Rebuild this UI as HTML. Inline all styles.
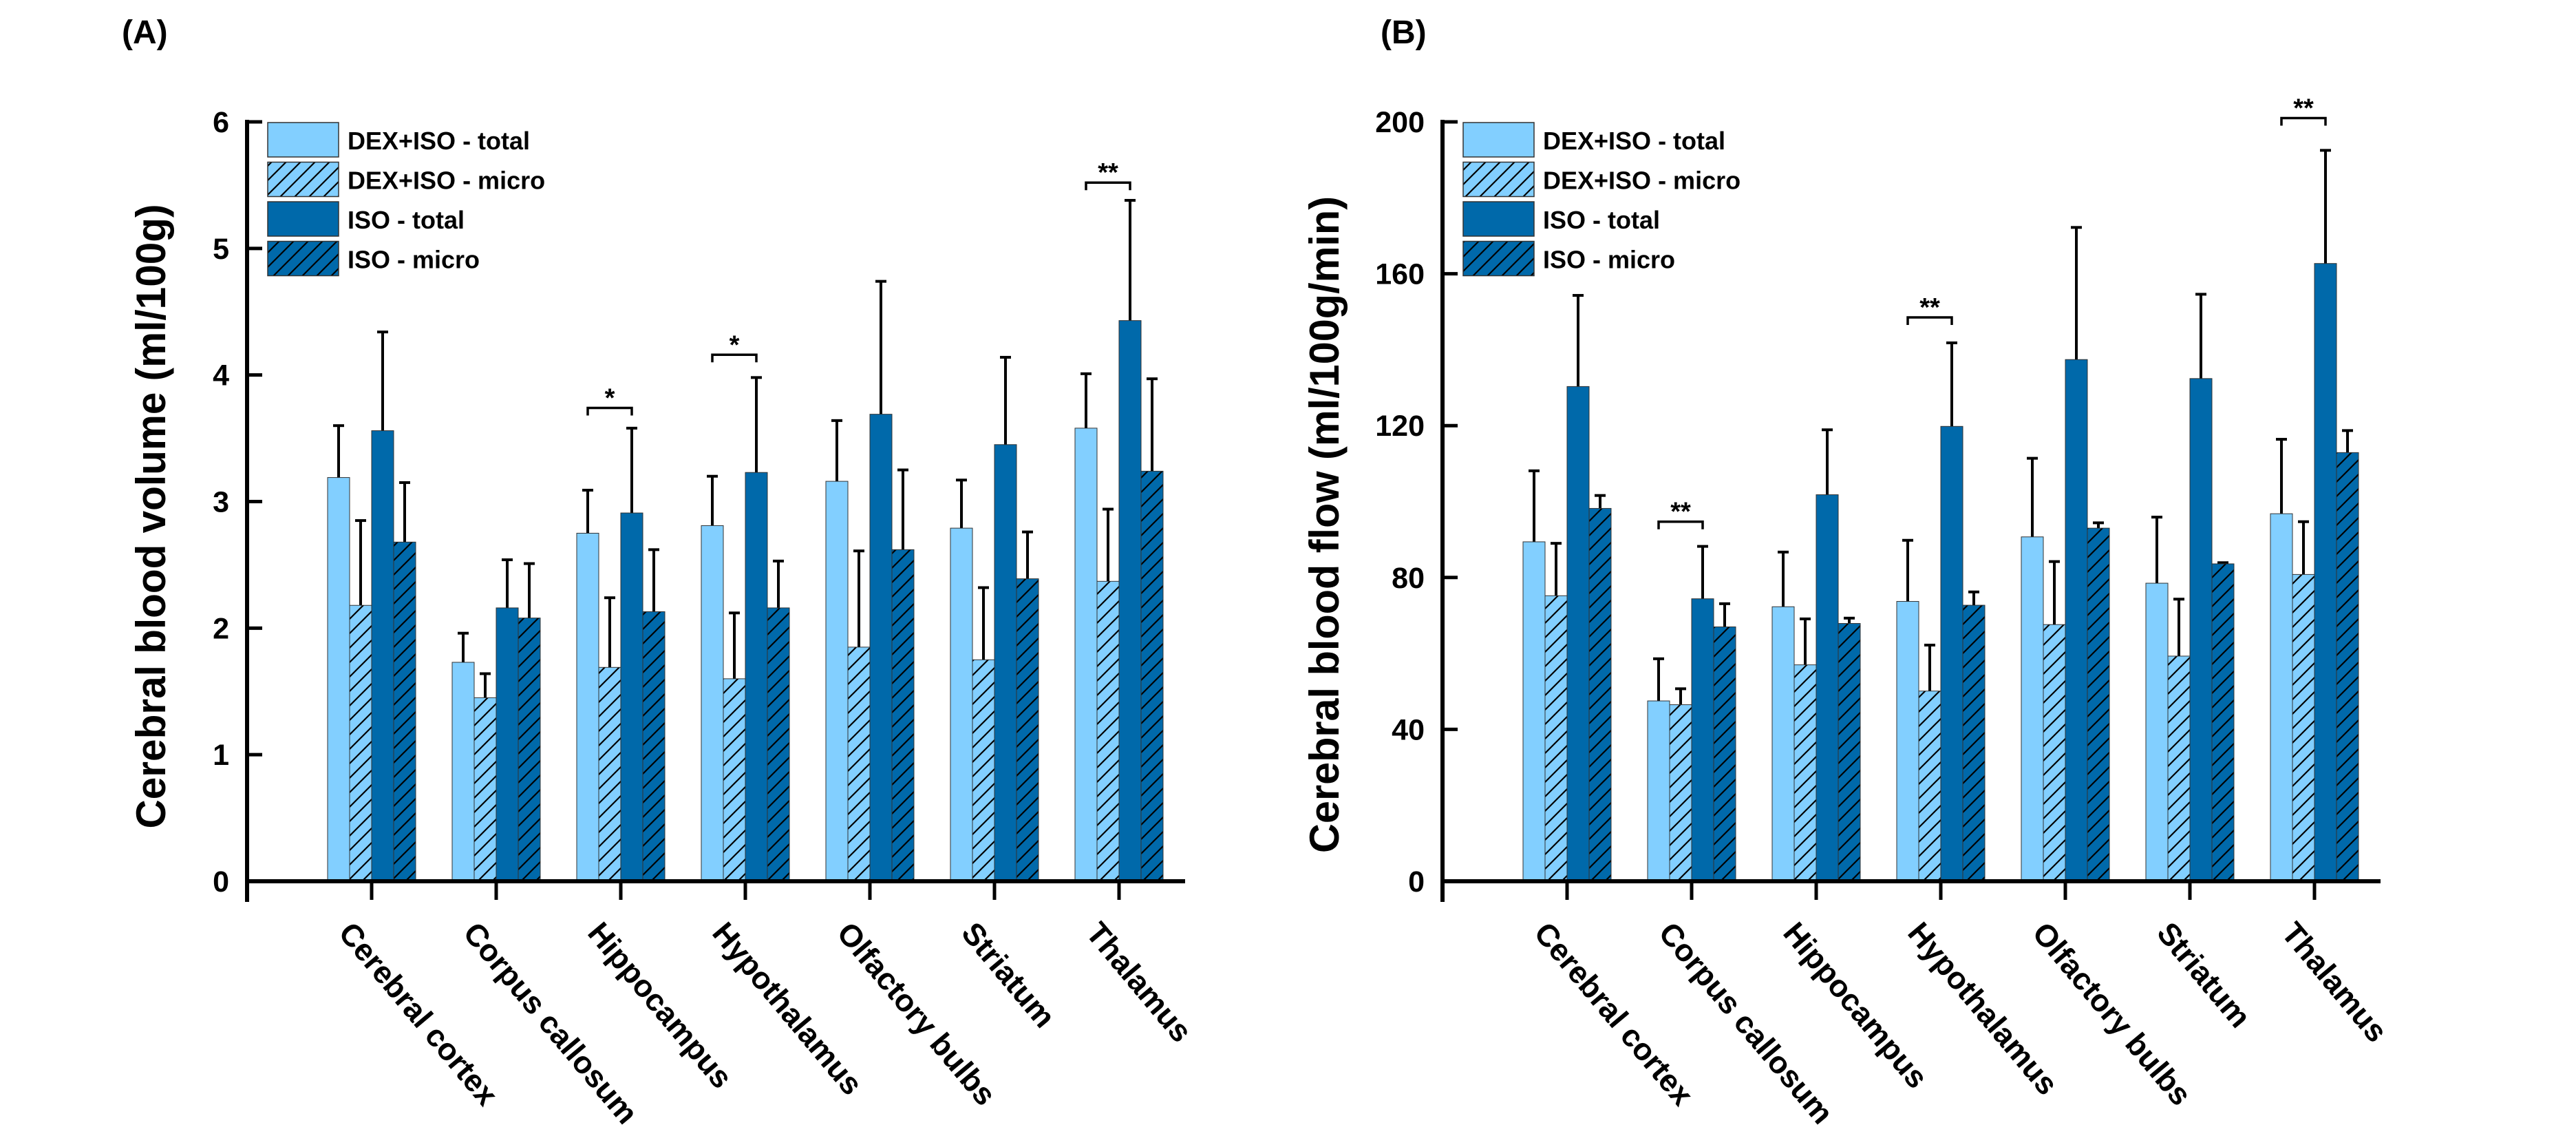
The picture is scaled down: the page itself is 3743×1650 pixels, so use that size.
<!DOCTYPE html>
<html><head><meta charset="utf-8"><style>
html,body{margin:0;padding:0;background:#fff}
svg{display:block;font-family:"Liberation Sans",Arial,sans-serif;font-weight:bold}
</style></head><body>
<svg id="chart" width="3743" height="1650" viewBox="0 0 3743 1650" xmlns="http://www.w3.org/2000/svg">
<defs></defs>
</svg>
<script>
const categories = ["Cerebral cortex","Corpus callosum","Hippocampus","Hypothalamus","Olfactory bulbs","Striatum","Thalamus"];
const seriesNames = ["DEX+ISO - total","DEX+ISO - micro","ISO - total","ISO - micro"];
// Panel A: cerebral blood volume
const cbvDexTotal = [3.19,1.73,2.75,2.81,3.16,2.79,3.58];
const cbvDexTotalErr = [0.41,0.23,0.34,0.39,0.48,0.38,0.43];
const cbvDexMicro = [2.18,1.45,1.69,1.60,1.85,1.75,2.37];
const cbvDexMicroErr = [0.67,0.19,0.55,0.52,0.76,0.57,0.57];
const cbvIsoTotal = [3.56,2.16,2.91,3.23,3.69,3.45,4.43];
const cbvIsoTotalErr = [0.78,0.38,0.67,0.75,1.05,0.69,0.95];
const cbvIsoMicro = [2.68,2.08,2.13,2.16,2.62,2.39,3.24];
const cbvIsoMicroErr = [0.47,0.43,0.49,0.37,0.63,0.37,0.73];
const cbvTicks = [0,1,2,3,4,5,6];
// Panel B: cerebral blood flow
const cbfDexTotal = [89.4,47.5,72.3,73.7,90.7,78.5,96.8];
const cbfDexTotalErr = [18.7,11.1,14.4,16.1,20.7,17.4,19.6];
const cbfDexMicro = [75.2,46.5,57.0,50.1,67.6,59.3,80.8];
const cbfDexMicroErr = [13.8,4.2,12.1,12.1,16.6,15.0,13.9];
const cbfIsoTotal = [130.3,74.4,101.8,119.8,137.4,132.4,162.7];
const cbfIsoTotalErr = [24.0,13.8,17.1,22.0,34.8,22.2,29.8];
const cbfIsoMicro = [98.2,67.0,67.9,72.7,93.0,83.6,112.9];
const cbfIsoMicroErr = [3.4,6.1,1.4,3.5,1.4,0.3,5.8];
const cbfTicks = [0,40,80,120,160,200];
// significance brackets: [category index, bracket value, label]
const cbvSig = [[2,3.74,"*"],[3,4.16,"*"],[6,5.52,"**"]];
const cbfSig = [[1,94.7,"**"],[3,148.5,"**"],[6,201,"**"]];

const NS="http://www.w3.org/2000/svg";
const svg=document.getElementById('chart');
function el(tag,attrs,parent,text){const e=document.createElementNS(NS,tag);for(const k in attrs)e.setAttribute(k,attrs[k]);if(text!==undefined)e.textContent=text;(parent||svg).appendChild(e);return e;}
const fills=["#82cfff","url(#hatchL)","#0069aa","url(#hatchD)"];
const defs=svg.querySelector('defs');
[["hatchL","#82cfff"],["hatchD","#0069aa"]].forEach(([id,c])=>{
  const p=el('pattern',{id:id,patternUnits:'userSpaceOnUse',width:21,height:21},defs);
  el('rect',{width:21,height:21,fill:c},p);
  el('path',{d:'M-2,23 L23,-2 M-23,23 L2,-2 M19,23 L44,-2',stroke:'#000','stroke-width':2.2},p);
});

function panel(cfg){
  const g=el('g',{});
  
  
  const x0=cfg.axisX, yBase=1280, yTop=177, xEnd=x0+1363;
  const yScale=v=>yBase-(v-cfg.ticks[0])/(cfg.ticks[cfg.ticks.length-1]-cfg.ticks[0])*(yBase-yTop);
  const xCat=i=>x0+181+181*i;
  const bw=32;
  const series=[cfg.dt,cfg.dm,cfg.it,cfg.im], errs=[cfg.dte,cfg.dme,cfg.ite,cfg.ime];
  categories.forEach((c,i)=>{
    series.forEach((s,j)=>{
      const x=xCat(i)-2*bw+j*bw, y=yScale(s[i]);
      const e=errs[j][i], ye=yScale(s[i]+e), xc=x+bw/2;
      const l=el('line',{x1:xc,x2:xc,y1:y,y2:ye,stroke:'#000','stroke-width':4},g);
      
      
      const cap=el('line',{x1:xc-8,x2:xc+8,y1:ye,y2:ye,stroke:'#000','stroke-width':4},g);
      
      
      const r=el('rect',{x:x,y:y,width:bw,height:yBase-y,fill:fills[j],stroke:'#333','stroke-width':1},g);
      
      
    });
    const t=el('line',{x1:xCat(i),x2:xCat(i),y1:yBase,y2:yBase+27,stroke:'#000','stroke-width':5},g);
    
    
    const ax=xCat(i)-50, ay=yBase+76;
    const lab=el('text',{x:ax,y:ay,'font-size':45,transform:`rotate(50 ${ax} ${ay})`},g,c);
    
    
  });
  cfg.sig.forEach(([i,v,lab])=>{
    const xa=xCat(i)-2*bw+bw/2, xb=xCat(i)+bw/2, y=yScale(v);
    const p=el('path',{d:`M${xa},${y+11} L${xa},${y} L${xb},${y} L${xb},${y+11}`,fill:'none',stroke:'#000','stroke-width':3.5},g);
    
    
    const t=el('text',{x:(xa+xb)/2,y:y-2,'font-size':38,'text-anchor':'middle'},g,lab);
    
    
  });
  const ya=el('line',{x1:x0,x2:x0,y1:yTop-3,y2:yBase+30,stroke:'#000','stroke-width':6},g);
  
  
  const xa=el('line',{x1:x0-3,x2:xEnd,y1:yBase,y2:yBase,stroke:'#000','stroke-width':6},g);
  
  
  cfg.ticks.forEach(v=>{
    const y=yScale(v);
    const t=el('line',{x1:x0,x2:x0+22,y1:y,y2:y,stroke:'#000','stroke-width':5},g);
    
    
    const l=el('text',{x:x0-26,y:y+15,'font-size':43,'text-anchor':'end'},g,String(v));
    
    
  });
  const tx=cfg.titleX, ty=cfg.titleY;
  const yt=el('text',{x:tx,y:ty,'font-size':60,'text-anchor':'middle',textLength:cfg.titleLen,lengthAdjust:'spacingAndGlyphs',transform:`rotate(-90 ${tx} ${ty})`},g,cfg.title);
  
  
  const pl=el('text',{x:cfg.labelX,y:63,'font-size':48},g,cfg.label);
  
  
  seriesNames.forEach((n,j)=>{
    const y=178+j*57.5;
    const r=el('rect',{x:x0+30,y:y,width:103,height:50,fill:fills[j],stroke:'#333','stroke-width':1.5},g);
    
    
    const t=el('text',{x:x0+146,y:y+39,'font-size':36},g,n);
    
    
  });
}
panel({name:'panel-a-blood-volume',axisX:359,ticks:cbvTicks,dt:cbvDexTotal,dte:cbvDexTotalErr,dm:cbvDexMicro,dme:cbvDexMicroErr,it:cbvIsoTotal,ite:cbvIsoTotalErr,im:cbvIsoMicro,ime:cbvIsoMicroErr,sig:cbvSig,title:'Cerebral blood volume (ml/100g)',titleX:240,titleY:750,titleLen:907,label:'(A)',labelX:177});
panel({name:'panel-b-blood-flow',axisX:2096,ticks:cbfTicks,dt:cbfDexTotal,dte:cbfDexTotalErr,dm:cbfDexMicro,dme:cbfDexMicroErr,it:cbfIsoTotal,ite:cbfIsoTotalErr,im:cbfIsoMicro,ime:cbfIsoMicroErr,sig:cbfSig,title:'Cerebral blood flow (ml/100g/min)',titleX:1945,titleY:762,titleLen:954,label:'(B)',labelX:2006});
</script>
</body></html>
